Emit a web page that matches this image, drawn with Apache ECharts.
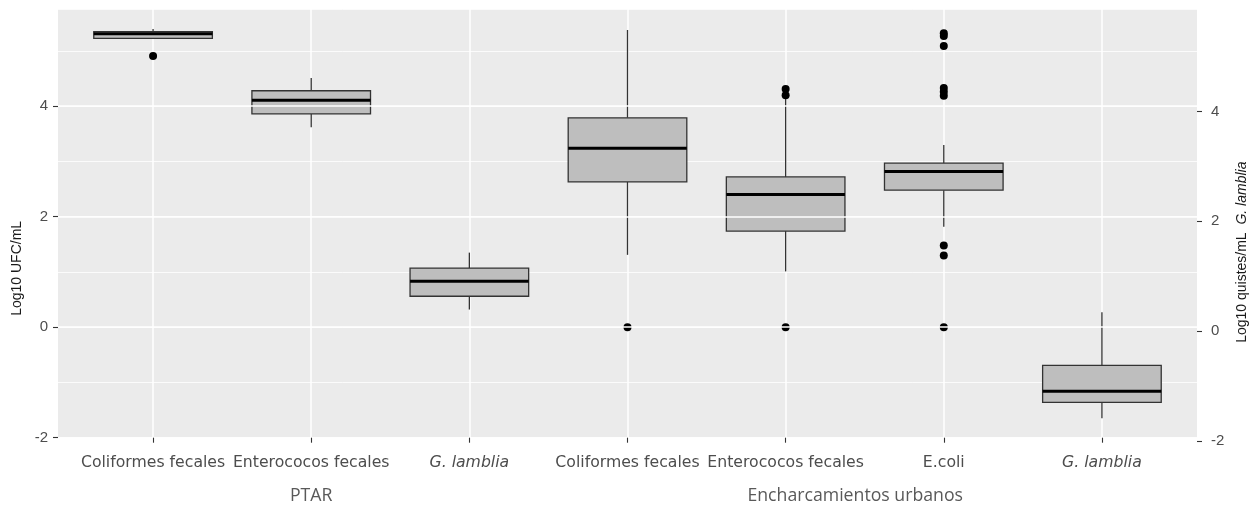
<!DOCTYPE html>
<html>
<head>
<meta charset="utf-8">
<script src="https://cdn.jsdelivr.net/npm/echarts@6/dist/echarts.min.js"></script>
<style>
  html, body { margin: 0; padding: 0; background: #ffffff; }
  #chart { width: 1253px; height: 506px; }
</style>
</head>
<body>
<div id="chart"></div>
<script>
// Sample categories (x axis) and their site groups
const categories = ['Coliformes fecales', 'Enterococos fecales', 'G. lamblia',
                    'Coliformes fecales', 'Enterococos fecales', 'E.coli', 'G. lamblia'];
const groupSlots = ['', '', '', 'PTAR', '', '', '', '', '', '', 'Encharcamientos urbanos', '', '', '', ''];

// Five-number summaries (log10 units)
const lowerWhisker = [5.22, 3.62, 0.32, 1.31, 1.01, 1.82, -1.65];
const q1Values     = [5.23, 3.86, 0.56, 2.63, 1.74, 2.48, -1.36];
const medians      = [5.31, 4.11, 0.83, 3.24, 2.40, 2.82, -1.16];
const q3Values     = [5.35, 4.28, 1.07, 3.79, 2.72, 2.97, -0.69];
const upperWhisker = [5.40, 4.51, 1.35, 5.38, 4.13, 3.30, 0.27];

// Outliers as [category index, value]
const outliers = [
  [0, 4.91],
  [3, 0.00],
  [4, 4.31], [4, 4.20], [4, 0.00],
  [5, 5.32], [5, 5.27], [5, 5.09], [5, 4.33], [5, 4.26], [5, 4.19],
  [5, 1.48], [5, 1.30], [5, 0.00]
];

// Axis ticks
const leftTicks = [-2, 0, 2, 4];
const rightTicks = [-2, 0, 2, 4];

const boxData = categories.map((_, i) =>
  [i, lowerWhisker[i], q1Values[i], medians[i], q3Values[i], upperWhisker[i]]);

const chart = echarts.init(document.getElementById('chart'), null, { renderer: 'canvas' });

const PANEL = { left: 58, right: 56, top: 9, bottom: 68.3 };
const BOXES = { left: 74, right: 72, top: 9, bottom: 68.3 };
const Y_MIN = -2, Y_MAX = 5.76;
const noBounds = { outerBoundsMode: 'none', containLabel: false };

function renderBox(params, api) {
  const i = api.value(0);
  const band = api.size([1, 0])[0];
  const half = band * 0.75 / 2;
  const cx = api.coord([i, api.value(1)])[0];
  const yMin = api.coord([i, api.value(1)])[1];
  const yQ1 = api.coord([i, api.value(2)])[1];
  const yMed = api.coord([i, api.value(3)])[1];
  const yQ3 = api.coord([i, api.value(4)])[1];
  const yMax = api.coord([i, api.value(5)])[1];
  const edge = { stroke: '#333333', lineWidth: 1.3 };
  return {
    type: 'group',
    children: [
      { type: 'line', shape: { x1: cx, y1: yMax, x2: cx, y2: yQ3 }, style: edge },
      { type: 'line', shape: { x1: cx, y1: yQ1, x2: cx, y2: yMin }, style: edge },
      { type: 'rect', shape: { x: cx - half, y: yQ3, width: 2 * half, height: yQ1 - yQ3 },
        style: { fill: '#bebebe', stroke: '#333333', lineWidth: 1.3 } },
      { type: 'line', shape: { x1: cx - half, y1: yMed, x2: cx + half, y2: yMed },
        style: { stroke: '#000000', lineWidth: 3 } }
    ]
  };
}

const tickStyle = { color: '#333333', width: 1.1 };

const option = {
  animation: false,
  backgroundColor: '#ffffff',
  grid: [
    // 0: panel background and horizontal grid lines
    Object.assign({ show: true, backgroundColor: '#ebebeb', borderWidth: 0 }, PANEL, noBounds),
    // 1: boxes (categories with 0.6 band padding on each side of the panel)
    Object.assign({}, BOXES, noBounds),
    // 2: secondary (right) axis
    Object.assign({ left: PANEL.left, right: PANEL.right, top: 1.6, bottom: 65.2 }, noBounds),
    // 3: group labels under the categories
    Object.assign({}, BOXES, noBounds),
    // 4: minor horizontal grid lines
    Object.assign({}, PANEL, noBounds)
  ],
  xAxis: [
    {
      gridIndex: 1, type: 'category', data: categories, boundaryGap: true, z: 10,
      axisLine: { show: false, onZero: false },
      axisTick: { show: true, inside: false, alignWithLabel: true, length: 5, lineStyle: tickStyle },
      axisLabel: {
        interval: 0, margin: 17, color: '#4d4d4d', fontFamily: 'DejaVu Sans', fontSize: 15.7,
        formatter: v => v === 'G. lamblia' ? '{it|' + v + '}' : v,
        rich: { it: { fontStyle: 'italic', color: '#4d4d4d', fontFamily: 'DejaVu Sans', fontSize: 15.7 } }
      },
      splitLine: { show: false }
    },
    {
      gridIndex: 3, type: 'category', data: groupSlots, boundaryGap: false, position: 'bottom',
      axisLine: { show: false, onZero: false }, axisTick: { show: false }, splitLine: { show: false },
      axisLabel: {
        interval: 0, margin: 49, color: '#595959', fontFamily: 'Open Sans', fontSize: 17.7,
        formatter: v => v === 'Encharcamientos urbanos' ? '{e|' + v + '}' : v,
        rich: { e: { color: '#595959', fontFamily: 'Open Sans', fontSize: 17.7, padding: [0, 19, 0, 0] } }
      }
    },
    { gridIndex: 0, type: 'value', show: false, min: 0, max: 1 },
    { gridIndex: 2, type: 'value', show: false, min: 0, max: 1 },
    { gridIndex: 4, type: 'value', show: false, min: 0, max: 1 }
  ],
  yAxis: [
    {
      gridIndex: 0, type: 'value', position: 'left', min: Y_MIN, max: Y_MAX, interval: 2, z: 10,
      axisLine: { show: false, onZero: false },
      axisTick: { show: true, inside: false, length: 5, customValues: leftTicks, lineStyle: tickStyle },
      axisLabel: {
        margin: 10, color: '#4d4d4d', fontFamily: 'Liberation Sans', fontSize: 15,
        customValues: leftTicks,
        formatter: v => String(v)
      },
      splitLine: { show: true, lineStyle: { color: '#ffffff', width: 1.5 } },
      name: 'Log10 UFC/mL', nameLocation: 'middle', nameRotate: 90, nameGap: 27,
      nameTextStyle: { color: '#1a1a1a', fontFamily: 'Liberation Sans', fontSize: 14, padding: [0, 90, 0, 0] }
    },
    {
      gridIndex: 4, type: 'value', position: 'left', min: Y_MIN, max: Y_MAX, interval: 1,
      axisLine: { show: false, onZero: false }, axisTick: { show: false }, axisLabel: { show: false },
      splitLine: { show: true, lineStyle: { color: '#ffffff', width: 0.8 } }
    },
    { gridIndex: 1, type: 'value', show: false, min: Y_MIN, max: Y_MAX },
    {
      gridIndex: 2, type: 'value', position: 'right', min: -2, max: 6, interval: 2, z: 10,
      axisLine: { show: false, onZero: false },
      axisTick: { show: true, inside: false, length: 5, customValues: rightTicks, lineStyle: tickStyle },
      axisLabel: {
        margin: 14, color: '#4d4d4d', fontFamily: 'Liberation Sans', fontSize: 15,
        customValues: rightTicks,
        formatter: v => String(v)
      },
      splitLine: { show: false },
      name: '{a|Log10 quistes/mL  }{b|G. lamblia}', nameLocation: 'middle', nameRotate: 90, nameGap: 38,
      nameTextStyle: {
        color: '#1a1a1a', fontFamily: 'Liberation Sans', fontSize: 14, padding: [0, 62, 0, 0],
        rich: {
          a: { color: '#1a1a1a', fontFamily: 'Liberation Sans', fontSize: 14 },
          b: { color: '#1a1a1a', fontFamily: 'Liberation Sans', fontSize: 14, fontStyle: 'italic' }
        }
      }
    },
    { gridIndex: 3, type: 'value', show: false, min: Y_MIN, max: Y_MAX }
  ],
  series: [
    {
      // vertical grid lines at each category
      type: 'line', xAxisIndex: 0, yAxisIndex: 2, data: [], z: 1, silent: true,
      markLine: {
        z: 1, silent: true, symbol: ['none', 'none'], label: { show: false }, animation: false,
        lineStyle: { color: '#ffffff', width: 1.5, type: 'solid' },
        emphasis: { disabled: true },
        data: categories.map((_, i) => ({ xAxis: i }))
      }
    },
    {
      type: 'custom', xAxisIndex: 0, yAxisIndex: 2, z: 2,
      encode: { x: 0, y: [1, 2, 3, 4, 5] },
      renderItem: renderBox,
      data: boxData
    },
    {
      type: 'scatter', xAxisIndex: 0, yAxisIndex: 2, z: 3,
      symbol: 'circle', symbolSize: 8,
      itemStyle: { color: '#000000', opacity: 1 },
      data: outliers
    }
  ]
};

chart.setOption(option);
</script>
</body>
</html>
